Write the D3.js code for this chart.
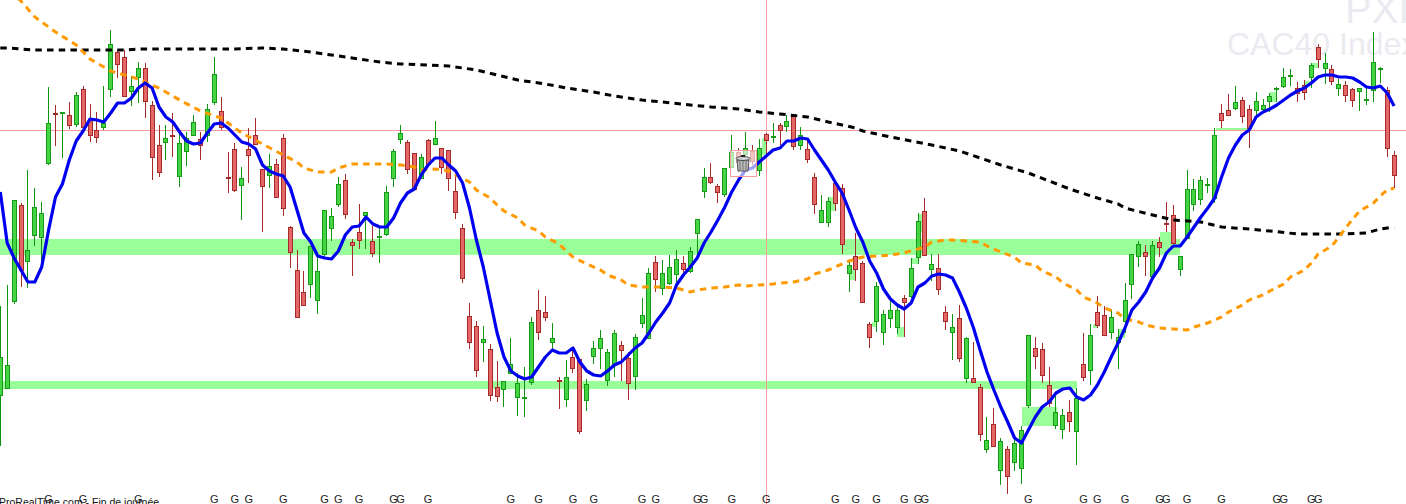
<!DOCTYPE html>
<html>
<head>
<meta charset="utf-8">
<script src="https://cdn.jsdelivr.net/npm/d3@7/dist/d3.min.js"></script>
<style>
html,body{margin:0;padding:0;background:#fff;overflow:hidden}
svg{display:block;font-family:"Liberation Sans",Arial,sans-serif}
</style>
</head>
<body>
<svg id="chart" width="1406" height="504"></svg>
<script>
// The chart shows no price axis, so every level below is a reading on the panel's own
// unlabelled vertical scale, counted downward (a smaller number is a higher price).
const candleColors =
  "gggrggggrg" + "rgrrrggrrg" + "grrrgrgggr" + "ggrrrgrrrg" + "rrrrrggggg" +
  "rrrgrggggr" + "rgrgrrrrrr" + "grrgggggrr" + "grgrrggggg" + "rrgggrgggr" +
  "gggrrggrgr" + "grgrgrgrrg" + "grrgrrrggg" + "grggrgrrgr" + "grrgrgrggg" +
  "rrrggrgrgr" + "rgggggrgrr" + "rggggggrrg" + "rrggggggrr" + "grgrgrrggg" + "grr";

const bodyTops = [
357,365,200,205,250,207,213,123,113,112,
115,95,89,120,130,123,44,52,57,86,
68,68,105,145,138,135,143,138,122,139,
109,74,111,177,149,178,149,135,169,166,
164,138,227,270,292,246,271,210,216,184,
180,242,232,212,241,236,192,151,133,142,
153,157,140,138,148,150,191,228,316,326,
339,349,387,381,364,383,397,322,310,312,
338,380,377,357,359,384,348,338,352,333,
345,358,337,315,273,262,273,267,259,263,
251,219,177,177,186,168,152,152,148,151,
148,134,136,125,121,114,135,149,177,210,
201,183,188,265,256,263,324,286,314,310,
310,298,268,221,211,264,268,312,327,318,
338,378,387,440,424,441,449,443,430,335,
348,349,385,412,415,412,398,364,335,312,
315,317,337,300,254,244,252,245,242,223,
215,256,189,189,180,184,135,113,110,102,
100,109,101,105,96,88,77,75,88,85,
65,47,63,69,84,85,89,88,99,62,
68,90,155];

const bodyBottoms = [
395,388,301,270,261,235,237,163,113,113,
125,124,127,135,137,127,89,64,96,91,
77,101,157,172,142,135,176,151,135,145,
135,102,127,177,190,185,155,144,186,175,
197,208,252,317,305,284,300,254,228,204,
214,245,240,215,253,236,234,178,139,169,
189,178,164,144,167,178,212,278,342,370,
342,395,396,389,373,397,397,382,332,317,
342,380,399,368,431,400,356,348,380,364,
350,383,376,323,338,279,288,283,274,269,
271,233,191,182,192,194,167,162,154,161,
170,140,136,130,126,146,145,159,204,222,
222,203,244,273,269,302,337,321,332,318,
327,302,296,257,255,269,289,321,332,358,
378,382,434,449,446,470,476,462,468,405,
356,375,403,425,429,421,431,377,370,325,
335,332,342,321,284,256,256,276,247,223,
243,269,238,204,199,184,198,120,115,108,
116,128,110,109,101,88,86,75,93,92,
77,59,68,81,88,95,100,91,99,90,
68,148,175];

const highs = [
306,285,200,203,170,188,202,87,105,112,
102,92,86,104,112,86,30,50,50,76,
62,63,101,125,125,113,132,132,115,132,
104,57,97,152,143,167,128,118,169,154,
159,134,226,250,271,246,255,210,208,177,
174,239,204,212,226,227,186,149,125,140,
153,154,139,121,148,150,174,224,303,321,
326,344,361,381,338,373,367,317,290,296,
323,377,360,350,359,379,341,330,349,330,
341,352,334,298,268,256,260,255,250,256,
247,219,168,163,184,168,135,148,132,145,
139,133,123,123,115,114,127,141,173,195,
197,183,184,262,233,261,322,282,310,301,
307,295,258,213,198,254,254,306,314,305,
337,342,384,417,408,438,446,438,426,335,
337,343,367,395,409,400,388,333,324,296,
306,310,329,283,254,241,245,241,237,202,
205,256,170,179,176,178,128,104,94,86,
97,105,92,99,93,87,68,69,82,80,
63,44,53,65,79,81,88,88,88,32,
67,87,151];

const lows = [
446,389,304,287,288,246,263,165,146,158,
129,127,127,142,143,130,97,78,97,106,
103,118,180,177,160,157,187,166,135,160,
142,105,130,193,192,220,183,144,232,188,
197,216,268,317,305,298,314,257,241,207,
219,276,249,249,257,263,236,187,144,174,
189,178,164,144,174,191,219,283,349,377,
362,401,402,407,373,416,417,385,340,321,
350,409,407,373,434,411,364,369,386,377,
381,400,390,328,339,292,295,285,283,274,
273,257,198,184,203,197,168,172,156,165,
176,157,143,145,132,150,150,163,214,222,
227,211,254,292,281,302,348,332,345,328,
334,337,298,264,255,281,295,330,360,362,
383,382,441,453,446,485,494,471,484,408,
369,383,407,429,439,432,465,381,385,328,
335,339,369,333,299,267,276,277,257,232,
243,276,238,211,205,193,203,128,115,110,
123,148,116,112,112,102,88,86,102,100,
88,68,84,85,96,102,107,111,105,102,
83,157,188];

// Fast moving average (blue), one reading per bar
const blueLine = [
192,243,258,270,282,282,267,230,197,184,160,141,131,119,120,122,113,103,103,98,88,83,
88,107,117,122,132,141,144,143,133,124,123,128,135,142,144,149,165,171,174,176,187,210,
233,242,256,258,259,251,235,227,226,217,224,227,227,218,203,193,189,175,165,158,158,
165,171,183,208,240,267,300,333,357,371,376,379,377,367,357,350,353,353,348,362,
371,375,376,371,365,362,355,348,343,333,322,313,303,285,275,267,258,243,232,220,207,
192,180,170,168,162,156,150,148,141,141,138,139,150,160,170,182,193,210,228,
242,261,273,289,299,305,309,303,287,283,276,274,275,278,292,308,327,350,372,390,407,
422,438,443,430,417,407,402,393,389,388,397,400,395,385,372,357,343,
328,310,302,292,278,268,253,246,246,237,227,217,208,198,177,158,145,135,130,117,112,
109,105,100,95,91,88,83,77,75,75,77,77,78,82,87,88,86,93,106];

// Slower moving averages, read at the bars where their dashes can be placed
const orangeBars = [0,3,5,8,11,13,16,20,23,26,29,32,35,38,41,43,44,46,48,49,51,53,55,56,58,60,61,63,65,66,68,69,71,72,73,75,76,78,79,81,82,83,85,87,88,90,91,93,94,96,98,100,101,103,105,107,108,110,112,113,115,117,118,120,122,123,125,127,129,130,132,134,135,137,138,140,142,143,145,147,148,150,151,153,154,156,157,159,160,162,163,165,166,168,170,172,173,175,177,178,180,181,183,184,186,187,189,190,191,193,194,195,196,197,199,200,201,202];
const orangeLine = [-17,1,17,32,45,59,71,79,88,100,111,118,133,144,155,162,168,172,172,168,164,164,164,164,165,167,170,169,171,175,182,190,198,205,211,218,225,231,237,244,251,257,264,270,275,280,285,287,287,287,288,292,290,288,287,285,286,285,284,283,282,279,274,270,264,261,257,256,255,254,251,247,242,240,240,241,242,246,252,257,263,265,271,277,283,290,297,303,308,313,319,322,325,328,329,330,327,323,317,312,305,300,295,291,284,277,270,263,254,246,237,228,219,211,203,196,190,188];

const blackBars = [0,1,3,5,8,12,15,18,20,26,31,34,38,41,45,48,51,55,58,62,65,69,72,75,79,82,86,89,93,96,100,103,107,110,113,117,120,124,125,129,132,135,139,142,145,149,152,155,159,162,163,167,170,174,177,181,184,188,191,194,198,200,201,202];
const blackLine = [48,48,49,50,50,50,50,50,49,49,49,49,48,49,52,55,58,62,64,65,66,70,75,80,84,88,92,96,100,102,105,107,109,112,114,117,122,128,131,137,141,145,151,158,165,173,181,189,198,204,208,215,220,222,227,229,231,234,234,234,233,229,228,228];

// Highlighted support zones (light green), in bars and levels
const zoneStarts  = [-1,-1,148,110.4,120,123,126.4,130,132.2,133,158.3,162,168,176.2,184,189,190];
const zoneEnds    = [171,156,153.2,111,121,124,127.1,131,133,133.8,159,163,169.7,180.9,185,190,191];
const zoneTops    = [239,381,407,138,197,270,322,327,258,214,324,329,232,127.5,92,81,63];
const zoneBottoms = [255,389,426,155,211,280,327,337,264,232,328,338,239,129.5,102,85,68];

// Bars carrying a "G" marker along the bottom
const gapBars = [7,12,20,31,34,36,41,47,49,52,57,58,62,74,78,83,86,93,95,101,102,106,111,121,124,127,131,133,134,149,157,159,163,168,169,172,177,185,186,190,191];

const cursorBar = 111;
const cursorLevel = 130;
const titleMain = "PXI";
const titleSub = "CAC40 Index";
const footerText = "ProRealTime.com - Fin de journée";

const W = 1406, H = 504;
const svg = d3.select("#chart");
const x = d3.scaleLinear().domain([0, 202]).range([0.3, 1394.1]);
const y = d3.scaleLinear().domain([0, H]).range([0, H]);

const bars = d3.range(candleColors.length).map(i => ({
  i, up: candleColors[i] === "g",
  top: bodyTops[i], bottom: bodyBottoms[i], high: highs[i], low: lows[i]
}));

// watermark
svg.append("text").attr("x", 1345).attr("y", 23).attr("font-size", 40)
  .attr("fill", "#eaebf0").text(titleMain);
svg.append("text").attr("x", 1227).attr("y", 54.5).attr("font-size", 32)
  .attr("fill", "#eaebf0").text(titleSub);

// zones
svg.append("g").selectAll("rect").data(zoneStarts).join("rect")
  .attr("x", (d, i) => x(d))
  .attr("width", (d, i) => x(zoneEnds[i]) - x(d))
  .attr("y", (d, i) => y(zoneTops[i]))
  .attr("height", (d, i) => y(zoneBottoms[i]) - y(zoneTops[i]))
  .attr("fill", "#99ff99")
  .attr("shape-rendering", "crispEdges");

// cursor lines
const cursor = svg.append("g").attr("stroke", "#ff9a9a").attr("stroke-width", 1)
  .attr("shape-rendering", "crispEdges");
cursor.append("line").attr("x1", 0).attr("x2", W)
  .attr("y1", y(cursorLevel) + 0.5).attr("y2", y(cursorLevel) + 0.5);
cursor.append("line").attr("y1", 0).attr("y2", H)
  .attr("x1", Math.floor(x(cursorBar)) + 0.5).attr("x2", Math.floor(x(cursorBar)) + 0.5);

// candles
const cx = d => Math.floor(x(d.i));
const candle = svg.append("g").selectAll("g").data(bars).join("g")
  .attr("shape-rendering", "crispEdges");
candle.append("line")
  .attr("x1", d => cx(d) + 0.5).attr("x2", d => cx(d) + 0.5)
  .attr("y1", d => y(d.high)).attr("y2", d => y(d.low))
  .attr("stroke", d => d.up ? "#0f950f" : "#a52a2a");
candle.append("rect")
  .attr("x", d => cx(d) - 1.5).attr("width", 4)
  .attr("y", d => Math.round(y(d.top)) + 0.5)
  .attr("height", d => Math.max(1, Math.round(y(d.bottom) - y(d.top))))
  .attr("fill", d => d.up ? "#44d444" : "#e46666")
  .attr("stroke", d => d.up ? "#149a14" : "#a52a2a");

// moving averages
const lineGen = d3.line().x(d => x(d[0])).y(d => y(d[1]));
svg.append("path").attr("d", lineGen(blackBars.map((b, i) => [b, blackLine[i]])))
  .attr("fill", "none").attr("stroke", "#000").attr("stroke-width", 3)
  .attr("stroke-dasharray", "6.5 5.2");
svg.append("path").attr("d", lineGen(orangeBars.map((b, i) => [b, orangeLine[i]])))
  .attr("fill", "none").attr("stroke", "#ff9900").attr("stroke-width", 3)
  .attr("stroke-dasharray", "6.5 5.2");
svg.append("path").attr("d", lineGen(blueLine.map((v, i) => [i, v])))
  .attr("fill", "none").attr("stroke", "#0000f0").attr("stroke-width", 3.2)
  .attr("stroke-linejoin", "round");

// bottom labels
svg.append("g").selectAll("text").data(gapBars).join("text")
  .attr("x", d => x(d)).attr("y", 503).attr("text-anchor", "middle")
  .attr("font-size", 11).attr("fill", "#222").text("G");
svg.append("text").attr("x", -1).attr("y", 505.5).attr("font-size", 10.5)
  .attr("fill", "#111").text(footerText);

// trash / delete widget left on the chart
const trash = svg.append("g");
trash.append("rect").attr("x", 730.5).attr("y", 150.5).attr("width", 26).attr("height", 26)
  .attr("fill", "rgba(255,255,255,0.62)").attr("stroke", "#ff9a9a").attr("shape-rendering", "crispEdges");
trash.append("path").attr("d", "M737 160 H749 L748 171 H738 Z")
  .attr("fill", "#b9b9b9").attr("stroke", "#333").attr("stroke-width", 0.8);
trash.append("path").attr("d", "M740 161 V170 M743 161 V170 M746 161 V170")
  .attr("stroke", "#666").attr("stroke-width", 0.8);
trash.append("ellipse").attr("cx", 743).attr("cy", 158.5).attr("rx", 7).attr("ry", 2)
  .attr("fill", "#d0d0d0").attr("stroke", "#333").attr("stroke-width", 0.8);
trash.append("rect").attr("x", 741).attr("y", 155).attr("width", 4).attr("height", 2).attr("fill", "#222");
</script>
</body>
</html>
